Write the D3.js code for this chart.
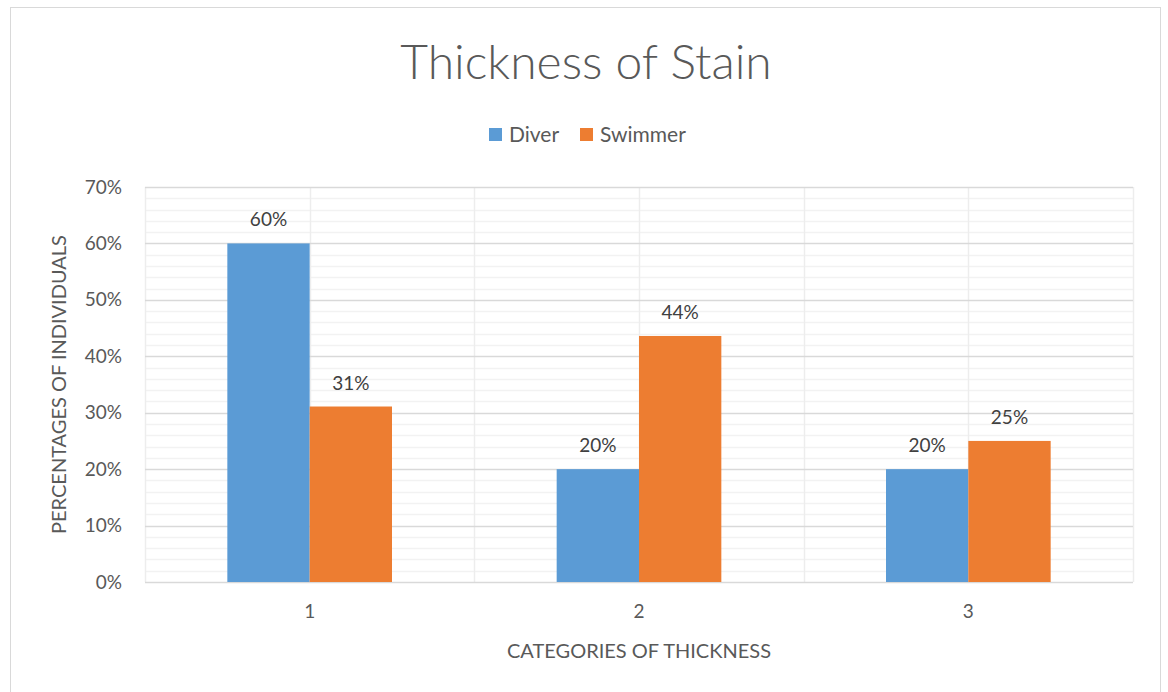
<!DOCTYPE html>
<html>
<head>
<meta charset="utf-8">
<script src="https://cdn.jsdelivr.net/npm/d3@7"></script>
<style>
  html, body { margin: 0; padding: 0; background: #fff; }
  svg { display: block; font-family: Lato, "Open Sans", sans-serif; }
</style>
</head>
<body>
<svg id="chart" width="1168" height="692"></svg>
<script>
// Chart data
const categories = ["1", "2", "3"];
const seriesNames = ["Diver", "Swimmer"];
const diverValues = [0.60, 0.20, 0.20];
const swimmerValues = [0.311, 0.436, 0.25];
const valueLabels = [["60%", "20%", "20%"], ["31%", "44%", "25%"]];
const yTicks = [0, 0.1, 0.2, 0.3, 0.4, 0.5, 0.6, 0.7];
const colors = ["#5B9BD5", "#ED7D31"];

const series = [diverValues, swimmerValues];

const svg = d3.select("#chart");
const textColor = "#595959";

// Outer chart frame
svg.append("rect")
  .attr("x", 10.5).attr("y", 7.5)
  .attr("width", 1150).attr("height", 700)
  .attr("fill", "#fff").attr("stroke", "#d9d9d9").attr("stroke-width", 1);

const plot = { left: 145, right: 1133, top: 187, bottom: 582 };

const x0 = d3.scaleBand().domain(categories).range([plot.left, plot.right]).padding(0);
const x1 = d3.scaleBand().domain(seriesNames)
  .range([x0.bandwidth() * 0.25, x0.bandwidth() * 0.75]).padding(0);
const y = d3.scaleLinear().domain([0, 0.7]).range([plot.bottom, plot.top]);

const g = svg.append("g");

// Minor horizontal grid (every 2%)
const minorTicks = d3.range(0, 0.7001, 0.02).filter(v => Math.abs(Math.round(v * 10) - v * 10) > 1e-6);
g.append("g").selectAll("line").data(minorTicks).join("line")
  .attr("x1", plot.left).attr("x2", plot.right)
  .attr("y1", d => Math.round(y(d)) + 0.5).attr("y2", d => Math.round(y(d)) + 0.5)
  .attr("stroke", "#f2f2f2").attr("stroke-width", 1.5);

// Vertical grid at category centres and boundaries
const vLines = [];
categories.forEach(c => {
  vLines.push(x0(c));
  vLines.push(x0(c) + x0.bandwidth() / 2);
});
vLines.push(plot.right);
g.append("g").selectAll("line").data(vLines).join("line")
  .attr("x1", d => Math.round(d) + 0.5).attr("x2", d => Math.round(d) + 0.5)
  .attr("y1", plot.top).attr("y2", plot.bottom)
  .attr("stroke", "#ededed").attr("stroke-width", 1.5);

// Major horizontal grid (every 10%)
g.append("g").selectAll("line").data(yTicks).join("line")
  .attr("x1", plot.left).attr("x2", plot.right)
  .attr("y1", d => Math.round(y(d)) + 0.5).attr("y2", d => Math.round(y(d)) + 0.5)
  .attr("stroke", "#d9d9d9").attr("stroke-width", 1.5);

// Y axis tick labels
const yAxis = d3.axisLeft(y).tickValues(yTicks).tickFormat(d3.format(".0%")).tickSize(0).tickPadding(0);
const yAxisG = svg.append("g").attr("transform", `translate(${plot.left - 23},0)`).call(yAxis);
yAxisG.select(".domain").remove();
yAxisG.selectAll("text")
  .attr("fill", textColor).style("font-size", "19px").style("font-family", "Lato, 'Open Sans', sans-serif");

// X axis tick labels
const xAxis = d3.axisBottom(x0).tickSize(0).tickPadding(0);
const xAxisG = svg.append("g").attr("transform", `translate(0,${plot.bottom + 22})`).call(xAxis);
xAxisG.select(".domain").remove();
xAxisG.selectAll("text")
  .attr("fill", textColor).style("font-size", "19px").style("font-family", "Lato, 'Open Sans', sans-serif");

// Bars
const groups = svg.append("g").selectAll("g").data(categories).join("g")
  .attr("transform", d => `translate(${x0(d)},0)`);

groups.selectAll("rect")
  .data((c, i) => seriesNames.map((s, j) => ({ s, j, v: series[j][i] })))
  .join("rect")
  .attr("x", d => x1(d.s))
  .attr("width", x1.bandwidth())
  .attr("y", d => y(d.v))
  .attr("height", d => y(0) - y(d.v))
  .attr("fill", d => colors[d.j]);

// Value labels
groups.selectAll("text.val")
  .data((c, i) => seriesNames.map((s, j) => ({ s, j, v: series[j][i], label: valueLabels[j][i] })))
  .join("text")
  .attr("class", "val")
  .attr("x", d => x1(d.s) + x1.bandwidth() / 2)
  .attr("y", d => y(d.v) - 17)
  .attr("text-anchor", "middle")
  .attr("fill", "#404040")
  .style("font-size", "19px")
  .text(d => d.label);

// Title
svg.append("text")
  .attr("x", 586).attr("y", 79)
  .attr("text-anchor", "middle")
  .attr("fill", textColor)
  .style("font-size", "48px")
  .style("font-weight", 300)
  .text("Thickness of Stain");

// Legend
const legend = svg.append("g").attr("transform", "translate(489,128)");
const legendX = [0, 91];
seriesNames.forEach((s, j) => {
  const lg = legend.append("g").attr("transform", `translate(${legendX[j]},0)`);
  lg.append("rect").attr("x", 0).attr("y", 0).attr("width", 13).attr("height", 13).attr("fill", colors[j]);
  lg.append("text").attr("x", 20).attr("y", 14)
    .attr("fill", textColor).style("font-size", "21px").text(s);
});

// Axis titles
svg.append("text")
  .attr("x", (plot.left + plot.right) / 2).attr("y", 658)
  .attr("text-anchor", "middle")
  .attr("fill", textColor)
  .style("font-size", "20px")
  .text("CATEGORIES OF THICKNESS");

svg.append("text")
  .attr("transform", `translate(66,${(plot.top + plot.bottom) / 2}) rotate(-90)`)
  .attr("text-anchor", "middle")
  .attr("fill", textColor)
  .style("font-size", "20px")
  .text("PERCENTAGES OF INDIVIDUALS");
</script>
</body>
</html>
